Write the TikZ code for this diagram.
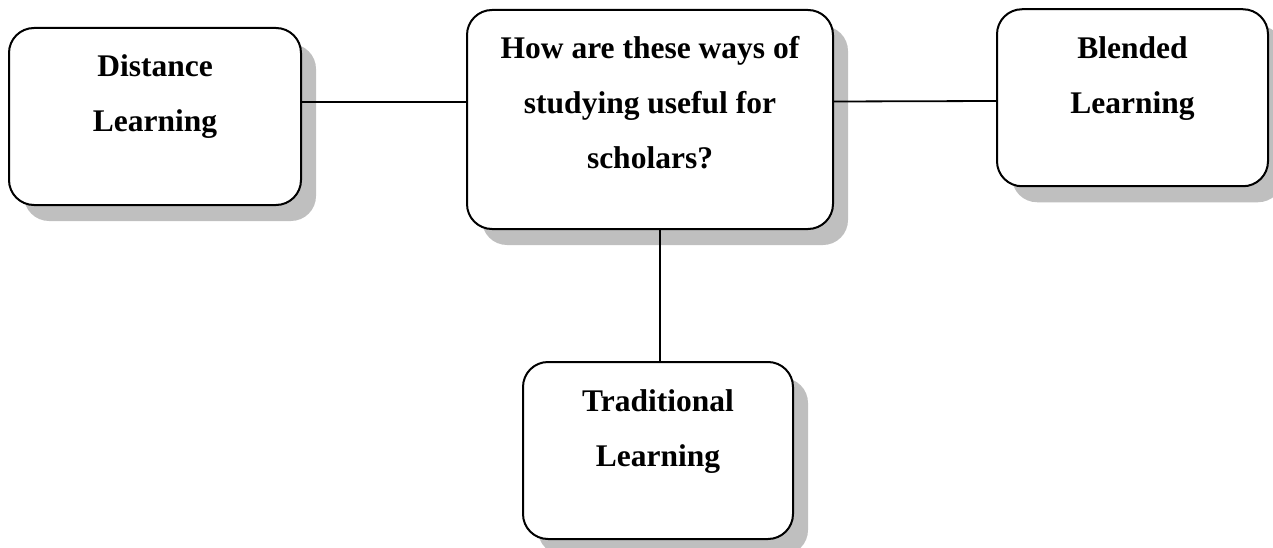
\documentclass[tikz,border=0pt]{standalone}
\usepackage{fontspec}
\setmainfont{Liberation Serif}
\usepackage{tikz}
\usetikzlibrary{positioning, shadows}
\tikzset{
topic/.style={draw, line width=2pt, rounded corners=25pt, fill=white, inner sep=0pt}, % the rounded boxes
shade box/.style={drop shadow={shadow xshift=15pt, shadow yshift=-16pt, fill=gray!50, opacity=1}}, % grey shadow at the lower right
every node/.style={font=\bfseries\fontsize{31.5pt}{55pt}\selectfont}, % bold serif text
link/.style={line width=1.8pt}, % plain connecting lines
}
% box of a given size, text sitting at its top
\newcommand{\topictext}[3]{\parbox[c][#2][t]{#1}{\centering\rule{0pt}{49pt}#3}}

\begin{document}
\begin{tikzpicture}[x=1pt, y=-1pt]
    \useasboundingbox (0,0) rectangle (1273,548);
    % central question
    \node[topic, shade box] (question) at (650,119.5) {\topictext{366pt}{219pt}{How are these ways of\\ studying useful for\\ scholars?}};
    % the three ways of studying
    \node[topic, shade box, left of=question, node distance=495pt, yshift=3pt] (distance) {\topictext{292pt}{177pt}{Distance\\ Learning}};
    \node[topic, shade box, right of=question, node distance=482.5pt, yshift=21.75pt] (blended) {\topictext{271pt}{177pt}{Blended\\ Learning}};
    \node[topic, shade box, below of=question, node distance=331pt, xshift=8pt] (traditional) {\topictext{270pt}{177pt}{Traditional\\ Learning}};
    \draw[link] ([yshift=14.5pt]distance.east) -- ([yshift=17.5pt]question.west);
    \draw[link] ([yshift=18pt]question.east) -- ([yshift=-3.25pt]blended.west);
    \draw[link] ([xshift=10pt]question.south) -- ([xshift=2pt]traditional.north);
\end{tikzpicture}
\end{document}
